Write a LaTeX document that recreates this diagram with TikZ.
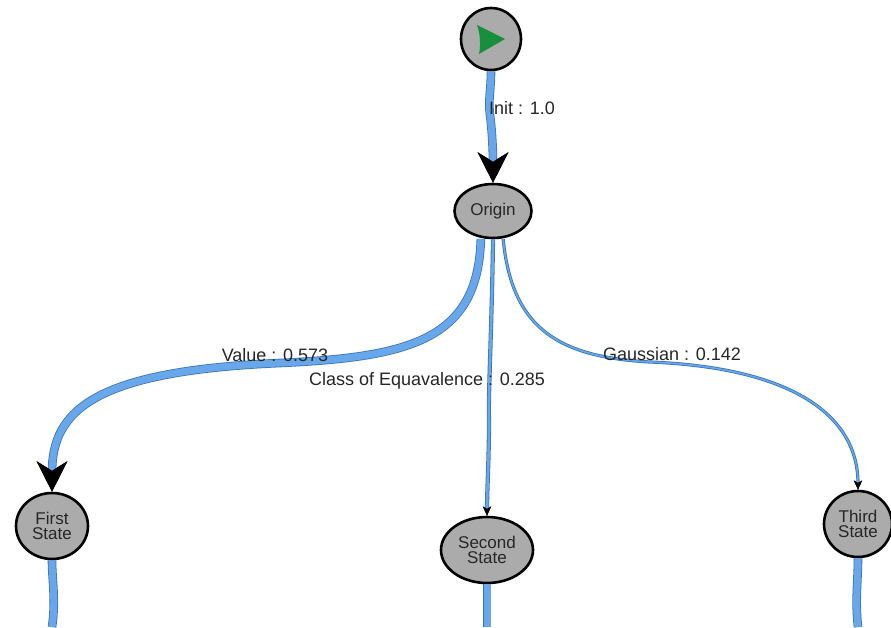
\documentclass[tikz,border=0pt]{standalone}
\usepackage{fontspec}
\setmainfont{Liberation Sans}
\usetikzlibrary{arrows.meta,shapes.geometric}
\definecolor{edgefill}{HTML}{68A8EA}
\definecolor{edgerim}{HTML}{3A74B8}
\definecolor{nodegray}{HTML}{ABABAB}
\definecolor{playgreen}{HTML}{16903C}
\begin{document}
\begin{tikzpicture}[x=1pt,y=-1pt,
  state/.style={ellipse,draw=black,line width=2.6pt,fill=nodegray,inner sep=0pt,
    minimum width=72pt,minimum height=66pt,align=center,
    font=\fontsize{17}{15.5}\selectfont,text=black!85},
  flow/.style={draw=edgefill,line width=#1,
    preaction={draw=edgerim,line width=#1+1.6pt}},
  bigtip/.style={-{Stealth[length=30pt,width=30pt,inset=9pt,color=black]}},
  smalltip/.style={-{Stealth[length=9pt,width=8pt,inset=2pt,color=black]}},
  lbl/.style={font=\fontsize{18}{18}\selectfont,text=black!85,inner sep=0pt}
]
\useasboundingbox (0,0) rectangle (891,627);

% nodes
\node[state,minimum width=60pt,minimum height=62pt] (start) at (491,39) {};
\node[state,minimum width=77pt,minimum height=54pt] (origin) at (493,211) {Origin};
\node[state,minimum width=72pt,minimum height=66pt] (first) at (52,526) {First\\State};
\node[state,minimum width=92pt,minimum height=66pt] (second) at (487,550) {Second\\State};
\node[state,minimum width=68pt,minimum height=66pt] (third) at (858,524) {Third\\State};

% play symbol inside the start node
\fill[playgreen] (477,25) -- (505,39) -- (479,54) .. controls (481,45) and (480,33) .. cycle;

% bottom exits
\coordinate (firstout) at (52,627);
\coordinate (secondout) at (487,627);
\coordinate (thirdout) at (858,627);

% outgoing edges leaving the lower states
\draw[flow=7pt] (first.south) .. controls (52,580) and (56,600) .. (firstout);
\draw[flow=7pt] (second.south) -- (secondout);
\draw[flow=7pt] (third.south) .. controls (858,580) and (855,600) .. (thirdout);

% transitions
\draw[flow=7pt,bigtip] (start.south) .. controls (491,90) and (488,100) .. (490,115)
  .. controls (492,130) and (493,150) .. (origin.north);

\draw[flow=7pt,bigtip] (origin.south west) ++(16,8) coordinate (o1)
  (o1) .. controls (478,340) and (410,357) .. (280,363)
  .. controls (95,371) and (52,410) .. (first.north);

\draw[flow=2.6pt,smalltip] (origin.south) .. controls (492,320) and (488,400) .. (489,420)
  .. controls (489,460) and (487,490) .. (second.north);

\draw[flow=1.6pt,smalltip] (origin.south east) ++(-18,8) coordinate (o3)
  (o3) .. controls (512,330) and (560,357) .. (650,362)
  .. controls (800,368) and (858,420) .. (third.north);

% labels
\node[lbl] (linit) at (522,108) {Init : 1.0};
\node[lbl] (lvalue) at (275,355) {Value : 0.573};
\node[lbl] (lclass) at (427,381) {Class of Equavalence : 0.285};
\node[lbl] (lgauss) at (672,354) {Gaussian : 0.142};
\end{tikzpicture}
\end{document}
